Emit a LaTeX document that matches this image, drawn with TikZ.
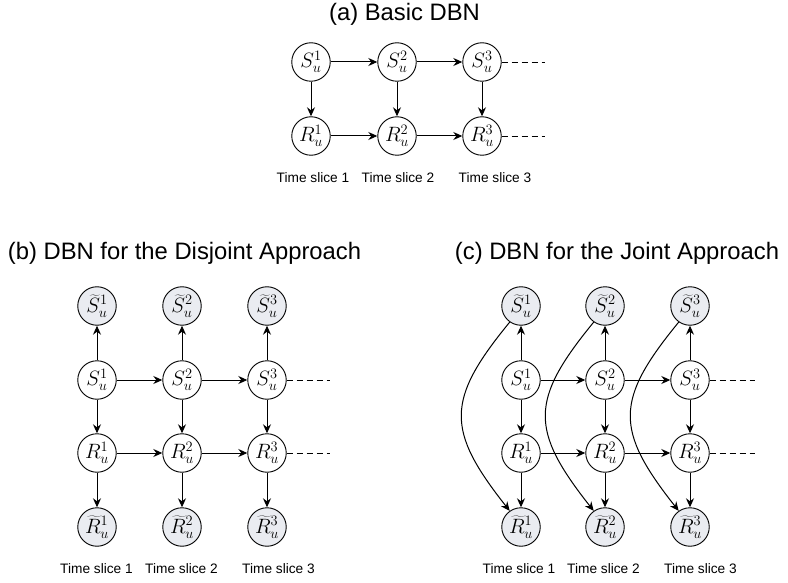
\documentclass[tikz,border=0pt]{standalone}
\usepackage[no-math]{fontspec}
\setmainfont{Liberation Sans}
\usetikzlibrary{arrows.meta}
\definecolor{obsfill}{RGB}{234,236,241}
\begin{document}
\begin{tikzpicture}[x=1pt,y=-1pt,
  var/.style={circle,draw,line width=0.9pt,minimum size=38.5pt,inner sep=0pt,font=\fontsize{21}{24}\selectfont,fill=white},
  obs/.style={var,fill=obsfill},
  arr/.style={-{Stealth[length=9pt,width=8pt,inset=3pt]},line width=1pt},
  dashline/.style={dash pattern=on 6pt off 4pt,line width=0.9pt},
  ttl/.style={anchor=base,font=\fontsize{23.8}{28}\selectfont},
  slice/.style={anchor=base,font=\fontsize{13.7}{16}\selectfont}]
\useasboundingbox (0,0) rectangle (788,583);

% ---------------- (a) ----------------
\node[ttl] (ta) at (404.5,21) {(a) Basic DBN};
\node[var] (aS1) at (311,62) {$S_u^1$};
\node[var] (aS2) at (397,62) {$S_u^2$};
\node[var] (aS3) at (482,62) {$S_u^3$};
\node[var] (aR1) at (311,136) {$R_u^1$};
\node[var] (aR2) at (397,136) {$R_u^2$};
\node[var] (aR3) at (482,136) {$R_u^3$};
\coordinate (aSe) at (545,62);
\coordinate (aRe) at (545,136);
\draw[arr] (aS1) -- (aS2);
\draw[arr] (aS2) -- (aS3);
\draw[arr] (aR1) -- (aR2);
\draw[arr] (aR2) -- (aR3);
\draw[arr] (aS1) -- (aR1);
\draw[arr] (aS2) -- (aR2);
\draw[arr] (aS3) -- (aR3);
\draw[dashline] (aS3) -- (aSe);
\draw[dashline] (aR3) -- (aRe);
\node[slice] (al1) at (313,183) {Time slice 1};
\node[slice] (al2) at (398,183) {Time slice 2};
\node[slice] (al3) at (495,183) {Time slice 3};

% ---------------- (b) ----------------
\node[ttl] (tb) at (184.5,259) {(b) DBN for the Disjoint Approach};
\node[obs] (bT1) at (97,306) {$\widetilde{S}_u^1$};
\node[obs] (bT2) at (182,306) {$\widetilde{S}_u^2$};
\node[obs] (bT3) at (267,306) {$\widetilde{S}_u^3$};
\node[var] (bS1) at (97,380) {$S_u^1$};
\node[var] (bS2) at (182,380) {$S_u^2$};
\node[var] (bS3) at (267,380) {$S_u^3$};
\node[var] (bR1) at (97,453) {$R_u^1$};
\node[var] (bR2) at (182,453) {$R_u^2$};
\node[var] (bR3) at (267,453) {$R_u^3$};
\node[obs] (bQ1) at (97,527) {$\widetilde{R}_u^1$};
\node[obs] (bQ2) at (182,527) {$\widetilde{R}_u^2$};
\node[obs] (bQ3) at (267,527) {$\widetilde{R}_u^3$};
\coordinate (bSe) at (330,380);
\coordinate (bRe) at (330,453);
\foreach \i in {1,2,3}{
  \draw[arr] (bS\i) -- (bT\i);
  \draw[arr] (bS\i) -- (bR\i);
  \draw[arr] (bR\i) -- (bQ\i);
}
\draw[arr] (bS1) -- (bS2);
\draw[arr] (bS2) -- (bS3);
\draw[arr] (bR1) -- (bR2);
\draw[arr] (bR2) -- (bR3);
\draw[dashline] (bS3) -- (bSe);
\draw[dashline] (bR3) -- (bRe);
\node[slice] (bl1) at (96.5,573) {Time slice 1};
\node[slice] (bl2) at (181.5,573) {Time slice 2};
\node[slice] (bl3) at (278.5,573) {Time slice 3};

% ---------------- (c) ----------------
\node[ttl] (tc) at (617,259) {(c) DBN for the Joint Approach};
\node[obs] (cT1) at (521,306) {$\widetilde{S}_u^1$};
\node[obs] (cT2) at (605,306) {$\widetilde{S}_u^2$};
\node[obs] (cT3) at (690,306) {$\widetilde{S}_u^3$};
\node[var] (cS1) at (521,380) {$S_u^1$};
\node[var] (cS2) at (605,380) {$S_u^2$};
\node[var] (cS3) at (690,380) {$S_u^3$};
\node[var] (cR1) at (521,453) {$R_u^1$};
\node[var] (cR2) at (605,453) {$R_u^2$};
\node[var] (cR3) at (690,453) {$R_u^3$};
\node[obs] (cQ1) at (521,527) {$\widetilde{R}_u^1$};
\node[obs] (cQ2) at (605,527) {$\widetilde{R}_u^2$};
\node[obs] (cQ3) at (690,527) {$\widetilde{R}_u^3$};
\coordinate (cSe) at (755,380);
\coordinate (cRe) at (755,453);
\foreach \i in {1,2,3}{
  \draw[arr] (cS\i) -- (cT\i);
  \draw[arr] (cS\i) -- (cR\i);
  \draw[arr] (cR\i) -- (cQ\i);
  \draw[arr] (cT\i.235) .. controls +(-64,78) and +(-64,-81) .. (cQ\i.125);
}
\draw[arr] (cS1) -- (cS2);
\draw[arr] (cS2) -- (cS3);
\draw[arr] (cR1) -- (cR2);
\draw[arr] (cR2) -- (cR3);
\draw[dashline] (cS3) -- (cSe);
\draw[dashline] (cR3) -- (cRe);
\node[slice] (cl1) at (519,573) {Time slice 1};
\node[slice] (cl2) at (603.5,573) {Time slice 2};
\node[slice] (cl3) at (700.5,573) {Time slice 3};
\end{tikzpicture}
\end{document}
